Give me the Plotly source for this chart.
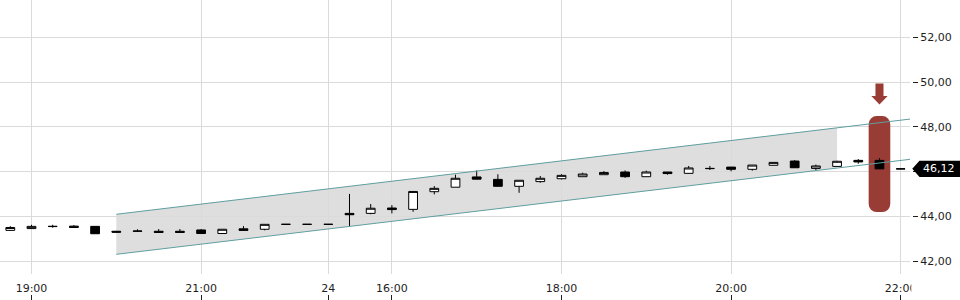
import plotly.graph_objects as go

# ---------------- data ----------------
idx = list(range(43))
opens  = [43.37, 43.45, 43.54, 43.56, 43.55, 43.33, 43.33, 43.33, 43.33, 43.39,
          43.23, 43.44, 43.42, 43.64, 43.64, 43.64, 44.13, 44.13, 44.37, 44.31,
          45.10, 45.30, 45.76, 45.65, 45.34, 45.55, 45.68, 45.77, 45.86, 45.98,
          45.77, 45.98, 45.92, 46.13, 46.20, 46.10, 46.28, 46.47, 46.14, 46.23,
          46.50, 46.50, 46.12]
highs  = [43.56, 43.62, 43.62, 43.61, 43.55, 43.35, 43.42, 43.43, 43.43, 43.43,
          43.42, 43.56, 43.64, 43.64, 43.64, 43.64, 45.00, 44.55, 44.50, 45.11,
          45.35, 45.86, 46.05, 45.88, 45.61, 45.80, 45.88, 45.95, 46.02, 46.05,
          46.04, 45.98, 46.25, 46.25, 46.20, 46.29, 46.41, 46.51, 46.31, 46.48,
          46.56, 46.60, 46.12]
lows   = [43.35, 43.44, 43.49, 43.50, 43.22, 43.27, 43.31, 43.27, 43.27, 43.22,
          43.22, 43.36, 43.37, 43.64, 43.64, 43.64, 43.55, 44.09, 44.13, 44.20,
          44.98, 45.30, 45.65, 45.34, 45.05, 45.50, 45.65, 45.77, 45.86, 45.72,
          45.77, 45.86, 45.92, 46.07, 46.01, 46.04, 46.28, 46.17, 46.04, 46.23,
          46.35, 46.12, 46.12]
closes = [43.50, 43.55, 43.55, 43.50, 43.22, 43.29, 43.34, 43.28, 43.28, 43.23,
          43.42, 43.37, 43.64, 43.64, 43.64, 43.64, 44.07, 44.36, 44.30, 45.11,
          45.25, 45.70, 45.66, 45.34, 45.61, 45.70, 45.83, 45.89, 45.96, 45.77,
          45.98, 45.91, 46.16, 46.14, 46.10, 46.29, 46.41, 46.17, 46.25, 46.46,
          46.43, 46.12, 46.12]

tick_pos = [1, 9, 15, 18, 26, 34, 42]
tick_text = ["19:00", "21:00", "24", "16:00", "18:00", "20:00", "22:00"]

y_ticks = [42, 44, 46, 48, 50, 52]
y_tick_text = ["42,00", "44,00", "", "48,00", "50,00", "52,00"]  # 46 hidden by price tag

# regression channel (start, fill end, line end)
chan_x = [5, 39, 43]
chan_upper = [44.09, 47.96, 48.41]
chan_lower = [42.30, 46.16, 46.61]

# highlighted candle
hl_idx = 41
hl_low = 44.19
hl_high = 48.48

# ---------------- styles ----------------
FONT = "DejaVu Sans"
TXT = "#1e1e1e"
GRID = "#dadada"
TEAL = "#5f9ea0"
RED = "#993c35"

x_range = [-0.486, 42.44]
y_range = [41.42, 53.67]

fig = go.Figure()

fig.add_trace(go.Bar(
    x=[hl_idx], y=[hl_high - hl_low], base=[hl_low], width=1.02,
    marker=dict(color=RED, cornerradius=8, line=dict(width=0)),
    hoverinfo="skip", showlegend=False,
))

fig.add_trace(go.Candlestick(
    x=idx, open=opens, high=highs, low=lows, close=closes,
    increasing=dict(fillcolor="white", line=dict(color="black", width=1)),
    decreasing=dict(fillcolor="black", line=dict(color="black", width=1)),
    whiskerwidth=0, showlegend=False, hoverinfo="skip",
))

fig.add_trace(go.Scatter(x=[chan_x[0], chan_x[-1]], y=[chan_upper[0], chan_upper[-1]],
                         mode="lines", line=dict(color=TEAL, width=1),
                         hoverinfo="skip", showlegend=False))
fig.add_trace(go.Scatter(x=[chan_x[0], chan_x[-1]], y=[chan_lower[0], chan_lower[-1]],
                         mode="lines", line=dict(color=TEAL, width=1),
                         hoverinfo="skip", showlegend=False))

# dummy trace for bottom tick axis
fig.add_trace(go.Scatter(x=[idx[0]], y=[closes[0]], xaxis="x2", mode="lines",
                         hoverinfo="skip", showlegend=False))

shapes = []
# channel fill (below gridlines)
shapes.append(dict(
    type="path", xref="x", yref="y", layer="below",
    path=f"M {chan_x[0]},{chan_upper[0]} L {chan_x[1]},{chan_upper[1]} "
         f"L {chan_x[1]},{chan_lower[1]} L {chan_x[0]},{chan_lower[0]} Z",
    fillcolor="#dedede", line=dict(width=0),
))
# down arrow above the highlight
sw, hw = 0.19, 0.385
a_top, a_base, a_tip = hl_high + 1.46, hl_high + 0.90, hl_high + 0.52
shapes.append(dict(
    type="path", xref="x", yref="y", layer="above",
    path=(f"M {hl_idx - sw},{a_top} L {hl_idx + sw},{a_top} L {hl_idx + sw},{a_base} "
          f"L {hl_idx + hw},{a_base} L {hl_idx},{a_tip} L {hl_idx - hw},{a_base} "
          f"L {hl_idx - sw},{a_base} Z"),
    fillcolor=RED, line=dict(width=0),
))
# last price tag
last = closes[-1]
hh = 0.36
shapes.append(dict(
    type="path", xref="paper", yref="y", layer="above",
    path=(f"M 1.0003,{last} L 1.0082,{last + hh} L 1.06,{last + hh} "
          f"L 1.06,{last - hh} L 1.0082,{last - hh} Z"),
    fillcolor="black", line=dict(width=0),
))
# clip x tick label beyond the plot edge
shapes.append(dict(
    type="rect", xref="paper", yref="paper", layer="above",
    x0=0.9993, x1=1.06, y0=0.0, y1=0.062,
    fillcolor="white", line=dict(width=0),
))

fig.update_layout(
    width=960, height=300,
    margin=dict(l=0, r=48, t=0, b=6),
    paper_bgcolor="white", plot_bgcolor="white",
    boxgap=0.41,
    shapes=shapes,
    font=dict(family=FONT, size=11, color=TXT),
    xaxis=dict(
        domain=[0, 910 / 912], range=x_range, anchor="y",
        tickmode="array", tickvals=tick_pos, ticktext=tick_text,
        showgrid=True, gridcolor=GRID, gridwidth=1,
        ticks="", showline=False, zeroline=False,
        ticklabelstandoff=6,
        rangeslider=dict(visible=False),
        tickfont=dict(family=FONT, size=11, color=TXT),
    ),
    xaxis2=dict(
        overlaying="x", anchor="free", position=0, range=x_range,
        domain=[0, 910 / 912],
        tickmode="array", tickvals=tick_pos, showticklabels=False,
        ticks="outside", ticklen=6, tickcolor=TXT, tickwidth=1,
        showgrid=False, zeroline=False, showline=False,
    ),
    yaxis=dict(
        domain=[20 / 294, 1], range=y_range, side="right",
        anchor="free", position=1,
        tickmode="array", tickvals=y_ticks, ticktext=y_tick_text,
        showgrid=True, gridcolor=GRID, gridwidth=1,
        ticks="outside", ticklen=5, tickcolor=TXT, tickwidth=1,
        showline=False, zeroline=False,
        tickfont=dict(family=FONT, size=11, color=TXT),
    ),
    annotations=[dict(
        xref="paper", yref="y", x=938.7 / 912, y=last,
        text=f"{last:.2f}".replace(".", ","), showarrow=False,
        xanchor="center", yanchor="middle",
        font=dict(family=FONT, size=11, color="white"),
    )],
)

fig.write_html("out.html")
